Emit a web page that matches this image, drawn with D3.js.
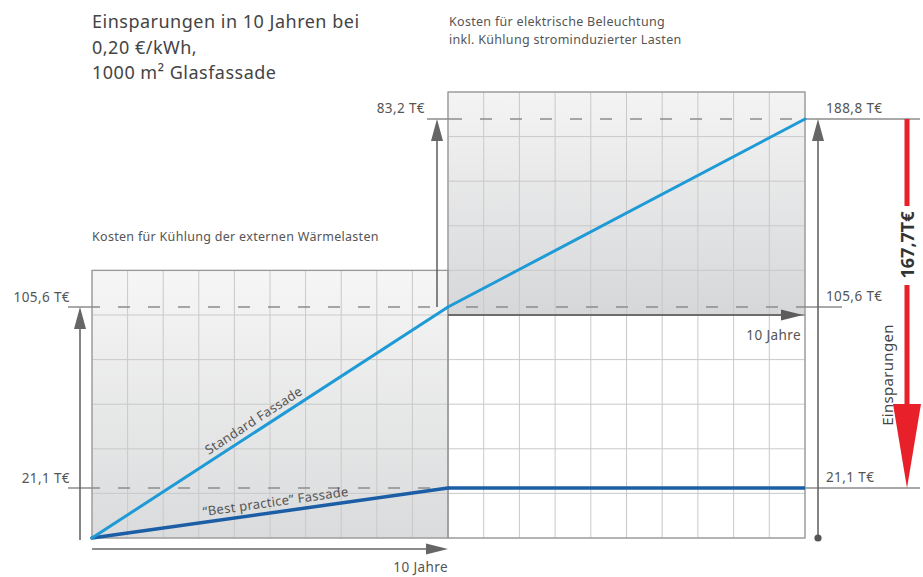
<!DOCTYPE html>
<html><head><meta charset="utf-8">
<script src="https://cdn.jsdelivr.net/npm/d3@7"></script>
<style>
body{margin:0;background:#fff}
svg{display:block}
text{font-family:"Noto Sans","DejaVu Sans",sans-serif}
</style>
</head><body>
<svg id="c" width="923" height="577"></svg>
<script>
// ---------------- data ----------------
const years = [0, 10];
const standardCooling = [0, 105.6];     // Standard Fassade, Kühlung externer Wärmelasten
const standardLighting = [105.6, 188.8]; // Standard Fassade, + Beleuchtung
const bestCooling = [0, 21.1];          // "Best practice" Fassade
const bestLighting = [21.1, 21.1];
const levels = [0, 21.1, 105.6, 188.8];
const leftTickValues = [105.6, 21.1];
const leftTickLabels = ["105,6 T€", "21,1 T€"];
const midTickValues = [188.8];
const midTickLabels = ["83,2 T€"];
const rightTickValues = [188.8, 105.6, 21.1];
const rightTickLabels = ["188,8 T€", "105,6 T€", "21,1 T€"];
const savingsFrom = 188.8, savingsTo = 21.1, savingsLabel = "167,7T€";
const titleLines = ["Einsparungen in 10 Jahren bei", "0,20 €/kWh,", "1000 m² Glasfassade"];
const lightingNote = ["Kosten für elektrische Beleuchtung", "inkl. Kühlung strominduzierter Lasten"];
const coolingNote = "Kosten für Kühlung der externen Wärmelasten";
const xAxisLabel = "10 Jahre";
const seriesNames = ["Standard Fassade", "“Best practice” Fassade"];
const gridCols = d3.range(0, 11);   // years 0..10
const gridRowsLeft = 6, gridRowsRight = 10;

// ---------------- layout ----------------
const svg = d3.select("#c");
const X0 = 92, XM = 448, X1 = 805, YB = 538, ROW = 44.6;
const xL = d3.scaleLinear().domain([0, 10]).range([X0, XM]);
const xR = d3.scaleLinear().domain([0, 10]).range([XM, X1]);
// schematic (not-to-scale) value axis, piecewise linear through the marked levels
const y = d3.scaleLinear().domain(levels).range([YB, 488, 307, 119]);
const gridY = d3.scaleLinear().domain([0, 10]).range([YB, YB - 10 * ROW]);

const TXT = "#555", GRID = "#c9c9c9", FRAME = "#9a9a9a", DASH = "#8c8c8c", ARW = "#666";

const defs = svg.append("defs");
const g1 = defs.append("linearGradient").attr("id", "gl").attr("x1", 0).attr("y1", 0).attr("x2", 0).attr("y2", 1);
g1.append("stop").attr("offset", "0%").attr("stop-color", "#f6f6f6");
g1.append("stop").attr("offset", "100%").attr("stop-color", "#dadbdc");
const g2 = defs.append("linearGradient").attr("id", "gr").attr("x1", 0).attr("y1", 0).attr("x2", 0).attr("y2", 1);
g2.append("stop").attr("offset", "0%").attr("stop-color", "#f4f4f4");
g2.append("stop").attr("offset", "100%").attr("stop-color", "#d6d7d9");

// panels
svg.append("rect").attr("x", X0).attr("y", gridY(gridRowsLeft)).attr("width", XM - X0)
  .attr("height", YB - gridY(gridRowsLeft)).attr("fill", "url(#gl)");
svg.append("rect").attr("x", XM).attr("y", gridY(gridRowsRight)).attr("width", X1 - XM)
  .attr("height", gridY(5) - gridY(gridRowsRight)).attr("fill", "url(#gr)");

// grid left
const gg = svg.append("g").attr("stroke", GRID).attr("stroke-width", 1);
gridCols.forEach(c => gg.append("line").attr("x1", xL(c)).attr("x2", xL(c)).attr("y1", gridY(gridRowsLeft)).attr("y2", YB));
d3.range(0, gridRowsLeft + 1).forEach(r => gg.append("line").attr("x1", X0).attr("x2", XM).attr("y1", gridY(r)).attr("y2", gridY(r)));
// grid right
gridCols.forEach(c => gg.append("line").attr("x1", xR(c)).attr("x2", xR(c)).attr("y1", gridY(gridRowsRight)).attr("y2", YB));
d3.range(0, gridRowsRight + 1).forEach(r => gg.append("line").attr("x1", XM).attr("x2", X1).attr("y1", gridY(r)).attr("y2", gridY(r)));

// frames
const fr = svg.append("g").attr("fill", "none").attr("stroke", FRAME).attr("stroke-width", 1.3);
fr.append("rect").attr("x", X0).attr("y", gridY(gridRowsLeft)).attr("width", XM - X0).attr("height", YB - gridY(gridRowsLeft));
fr.append("rect").attr("x", XM).attr("y", gridY(gridRowsRight)).attr("width", X1 - XM).attr("height", YB - gridY(gridRowsRight));
fr.append("line").attr("x1", XM).attr("x2", X1).attr("y1", gridY(5)).attr("y2", gridY(5)).attr("stroke", "#8a8a8a");

// dashed reference lines
const dl = svg.append("g").attr("stroke", DASH).attr("stroke-width", 1.5).attr("fill", "none");
function hline(xa, xb, yy, dashed) {
  const l = dl.append("line").attr("x1", xa).attr("x2", xb).attr("y1", yy).attr("y2", yy);
  if (dashed) l.attr("stroke-dasharray", "12,18").attr("stroke-dashoffset", -18);
  return l;
}
leftTickValues.forEach(v => { hline(68, X0 + 8, y(v), false); hline(X0 + 8, XM, y(v), true); });
hline(XM, X1, y(105.6), true);
hline(427, XM + 14, y(188.8), false);
hline(XM + 14, X1, y(188.8), true);
rightTickValues.forEach(v => hline(X1, v === 105.6 ? 842 : 920, y(v), false));

// arrows
function arrow(x1, y1, x2, y2, col, w, hl, hw) {
  const a = Math.atan2(y2 - y1, x2 - x1);
  const bx = x2 - hl * Math.cos(a), by = y2 - hl * Math.sin(a);
  svg.append("line").attr("x1", x1).attr("y1", y1).attr("x2", bx).attr("y2", by)
    .attr("stroke", col).attr("stroke-width", w);
  const px = -Math.sin(a) * hw, py = Math.cos(a) * hw;
  svg.append("path").attr("d", `M${x2},${y2}L${bx + px},${by + py}L${bx - px},${by - py}Z`).attr("fill", col);
}
arrow(80, YB + 2, 80, y(105.6), ARW, 1.6, 22, 6);
arrow(X0, 549, XM, 549, ARW, 1.6, 22, 5.5);
arrow(437, y(105.6), 437, y(188.8), ARW, 1.6, 22, 6);
arrow(XM, gridY(5), X1 - 2, gridY(5), "#5c5c5c", 1.6, 22, 5.5);
arrow(818, YB, 818, y(188.8), ARW, 1.6, 22, 6);
svg.append("circle").attr("cx", 818).attr("cy", YB).attr("r", 3.6).attr("fill", "#555");

// series lines
const lineL = d3.line().x((d, i) => xL(years[i])).y(d => y(d));
const lineR = d3.line().x((d, i) => xR(years[i])).y(d => y(d));
const STD = "#1e9ad6", BEST = "#1b5ea6";
svg.append("path").attr("d", lineR(bestLighting)).attr("stroke", BEST).attr("stroke-width", 3.5).attr("fill", "none");
svg.append("path").attr("d", lineL(bestCooling)).attr("stroke", BEST).attr("stroke-width", 3.5).attr("fill", "none").attr("stroke-linecap", "round");
svg.append("path").attr("d", lineL(standardCooling)).attr("stroke", STD).attr("stroke-width", 3).attr("fill", "none").attr("stroke-linecap", "round");
svg.append("path").attr("d", lineR(standardLighting)).attr("stroke", STD).attr("stroke-width", 3).attr("fill", "none").attr("stroke-linecap", "round");

// series labels along lines
function along(name, data, t, off) {
  const xa = xL(years[0]), ya = y(data[0]), xb = xL(years[1]), yb = y(data[1]);
  const ang = Math.atan2(yb - ya, xb - xa) * 180 / Math.PI;
  const cx = xa + (xb - xa) * t, cy = ya + (yb - ya) * t;
  svg.append("text").attr("transform", `translate(${cx},${cy}) rotate(${ang}) translate(0,${-off})`)
    .attr("text-anchor", "middle").attr("font-size", 13).attr("letter-spacing", 0.3).attr("fill", TXT).text(name);
}
along(seriesNames[0], standardCooling, 0.47, 6);
along(seriesNames[1], bestCooling, 0.52, 6);

// value labels
const lab = svg.append("g").attr("font-size", 13.5).attr("letter-spacing", 0.4).attr("fill", TXT);
leftTickValues.forEach((v, i) => lab.append("text").attr("x", 70).attr("y", y(v) - 5).attr("text-anchor", "end").text(leftTickLabels[i]));
midTickValues.forEach((v, i) => lab.append("text").attr("x", 425).attr("y", y(v) - 6).attr("text-anchor", "end").text(midTickLabels[i]));
rightTickValues.forEach((v, i) => lab.append("text").attr("x", 826).attr("y", y(v) - 6).text(rightTickLabels[i]));
lab.append("text").attr("x", XM).attr("y", 572).attr("text-anchor", "end").text(xAxisLabel);
lab.append("text").attr("x", X1 - 4).attr("y", 340).attr("text-anchor", "end").text(xAxisLabel);

// notes
const nt = svg.append("g").attr("font-size", 12.5).attr("letter-spacing", 0.3).attr("fill", TXT);
lightingNote.forEach((t, i) => nt.append("text").attr("x", 449).attr("y", 26 + i * 18).text(t));
nt.append("text").attr("x", X0).attr("y", 241).text(coolingNote);

// title
const tt = svg.append("g").attr("font-size", 18).attr("letter-spacing", 0.5).attr("fill", "#444");
titleLines.forEach((t, i) => tt.append("text").attr("x", X0).attr("y", 28 + i * 25.5).text(t));

// savings arrow
const RX = 907;
arrow(RX, y(savingsFrom), RX, y(savingsTo), "#e8202a", 5, 84, 14);
svg.append("rect").attr("x", RX - 9).attr("y", 206).attr("width", 18).attr("height", 79).attr("fill", "#fff");
svg.append("text").attr("transform", `translate(${RX + 7},245) rotate(-90)`).attr("text-anchor", "middle")
  .attr("font-size", 18).attr("font-weight", "bold").attr("fill", "#333").text(savingsLabel);
svg.append("text").attr("transform", `translate(${893},375) rotate(-90)`).attr("text-anchor", "middle")
  .attr("font-size", 15).attr("letter-spacing", 0.3).attr("fill", "#444").text("Einsparungen");
</script>
</body></html>
